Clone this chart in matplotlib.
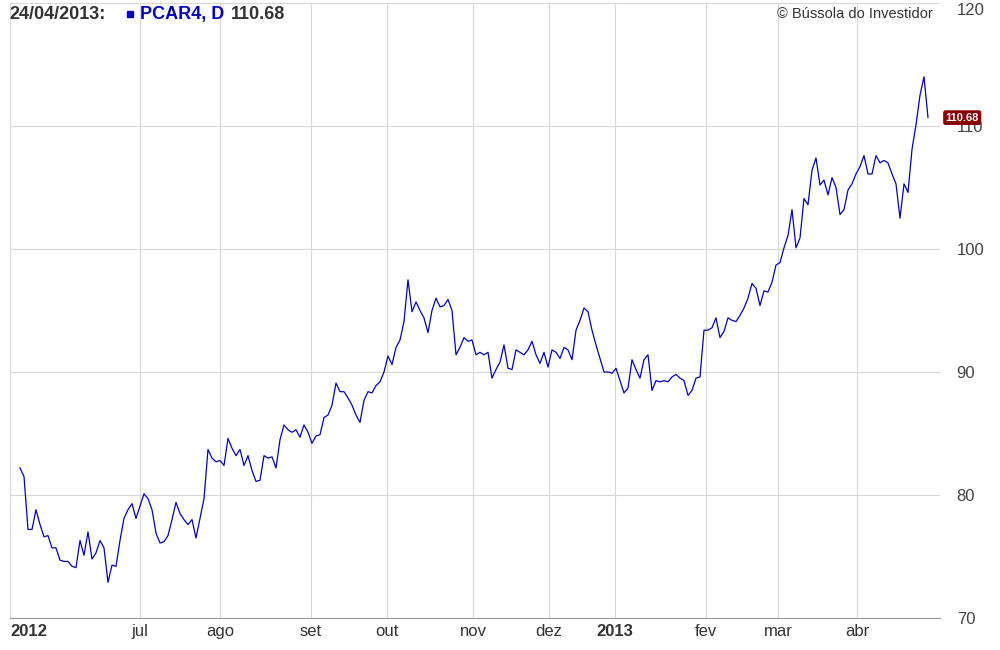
import matplotlib.pyplot as plt
from matplotlib.patches import Rectangle

plt.rcParams['font.family'] = 'Liberation Sans'

# daily closes (Jun 2012 .. 24/04/2013)
prices = [
    82.2, 81.5, 77.2, 77.2, 78.8, 77.6, 76.6, 76.7, 75.7, 75.7, 74.7, 74.6, 74.6, 74.2, 74.1, 76.3,
    75.1, 77.0, 74.8, 75.3, 76.3, 75.7, 72.9, 74.3, 74.2, 76.3, 78.1, 78.8, 79.3, 78.1, 79.1, 80.1,
    79.7, 78.8, 76.9, 76.1, 76.2, 76.7, 78.0, 79.4, 78.5, 78.0, 77.6, 78.0, 76.5, 78.1, 79.7, 83.7,
    83.0, 82.7, 82.8, 82.4, 84.6, 83.8, 83.2, 83.7, 82.4, 83.2, 82.0, 81.1, 81.2, 83.2, 83.0, 83.1,
    82.2, 84.5, 85.7, 85.3, 85.1, 85.3, 84.7, 85.7, 85.1, 84.2, 84.8, 84.9, 86.3, 86.5, 87.3, 89.1,
    88.4, 88.4, 87.9, 87.3, 86.5, 85.9, 87.7, 88.4, 88.3, 88.9, 89.2, 90.0, 91.3, 90.6, 92.0, 92.6,
    94.1, 97.5, 94.9, 95.7, 95.0, 94.4, 93.2, 95.0, 96.0, 95.3, 95.4, 95.9, 95.0, 91.4, 92.0, 92.8,
    92.5, 92.6, 91.4, 91.6, 91.4, 91.6, 89.5, 90.2, 90.8, 92.2, 90.3, 90.2, 91.8, 91.6, 91.4, 91.8,
    92.5, 91.4, 90.7, 91.6, 90.4, 91.8, 91.6, 91.1, 92.0, 91.8, 91.0, 93.4, 94.2, 95.2, 94.9, 93.4,
    92.2, 91.1, 90.0, 90.0, 89.9, 90.3, 89.3, 88.3, 88.7, 91.0, 90.2, 89.5, 91.0, 91.4, 88.5, 89.3,
    89.2, 89.3, 89.2, 89.6, 89.8, 89.5, 89.3, 88.1, 88.5, 89.5, 89.6, 93.4, 93.4, 93.6, 94.4, 92.8,
    93.3, 94.4, 94.2, 94.1, 94.6, 95.2, 96.0, 97.2, 96.8, 95.4, 96.6, 96.5, 97.3, 98.7, 98.9, 100.1,
    101.1, 103.2, 100.1, 100.9, 104.1, 103.6, 106.4, 107.4, 105.2, 105.6, 104.4, 105.8, 105.0, 102.8,
    103.2, 104.8, 105.3, 106.1, 106.7, 107.6, 106.1, 106.1, 107.6, 107.0, 107.2, 107.0, 106.1, 105.3,
    102.5, 105.3, 104.6, 108.1, 110.1, 112.5, 114.0, 110.68,
]
tick_pos = [-2.5, 30, 50, 72.75, 91.75, 113.25, 132.25, 148.75, 171.5, 189.5, 209.25]
tick_labels = ['2012', 'jul', 'ago', 'set', 'out', 'nov', 'dez', '2013', 'fev', 'mar', 'abr']
y_ticks = [70, 80, 90, 100, 110, 120]
last_value = 110.68
title_date = '24/04/2013:'
title_ticker = 'PCAR4, D'

fig = plt.figure(figsize=(10, 6.5), dpi=100)
ax = fig.add_axes([0.01, 32 / 650, 0.93, 615 / 650])
ax.plot(range(len(prices)), prices, color='#0000cc', lw=0.9)
ax.set_xlim(-2.5, 230)
ax.set_ylim(70, 120)

ax.set_yticks(y_ticks)
ax.yaxis.tick_right()
ax.tick_params(axis='y', length=0, labelsize=12, colors='#444444', pad=12)
ax.set_xticks(tick_pos)
ax.set_xticklabels(tick_labels)
ax.tick_params(axis='x', length=0, labelsize=12, colors='#333333', pad=4)
for lbl in ax.get_xticklabels():
    if lbl.get_text() in ('2012', '2013'):
        lbl.set_fontweight('bold')
ax.get_xticklabels()[0].set_ha('left')
ax.get_yticklabels()[-1].set_va('top')
ax.grid(True, color='#d8d8d8', lw=0.8)
for s in ['top', 'left', 'right']:
    ax.spines[s].set_visible(False)
ax.spines['bottom'].set_color('#999999')

# last value marker on the right axis
ax.annotate(f'{last_value:.2f}', xy=(1.0, last_value), xycoords=('axes fraction', 'data'),
            xytext=(4, 0), textcoords='offset points', ha='left', va='center',
            fontsize=8, color='white', fontweight='bold', zorder=5,
            bbox=dict(boxstyle='round,pad=0.15', fc='#8b0000', ec='#8b0000'))

fig.text(0.009, 0.978, title_date, fontsize=13, fontweight='bold', color='#333333', va='center')
fig.patches.append(Rectangle((0.127, 0.974), 0.006, 0.0085, transform=fig.transFigure,
                             color='#0000cc'))
fig.text(0.140, 0.978, title_ticker, fontsize=13, fontweight='bold', color='#0000cc', va='center')
fig.text(0.231, 0.978, f'{last_value:.2f}', fontsize=13, fontweight='bold', color='#333333',
         va='center')
fig.text(0.933, 0.978, '© Bússola do Investidor', fontsize=10.5, color='#333333', ha='right',
         va='center')

fig.savefig('out.png', dpi=100)
